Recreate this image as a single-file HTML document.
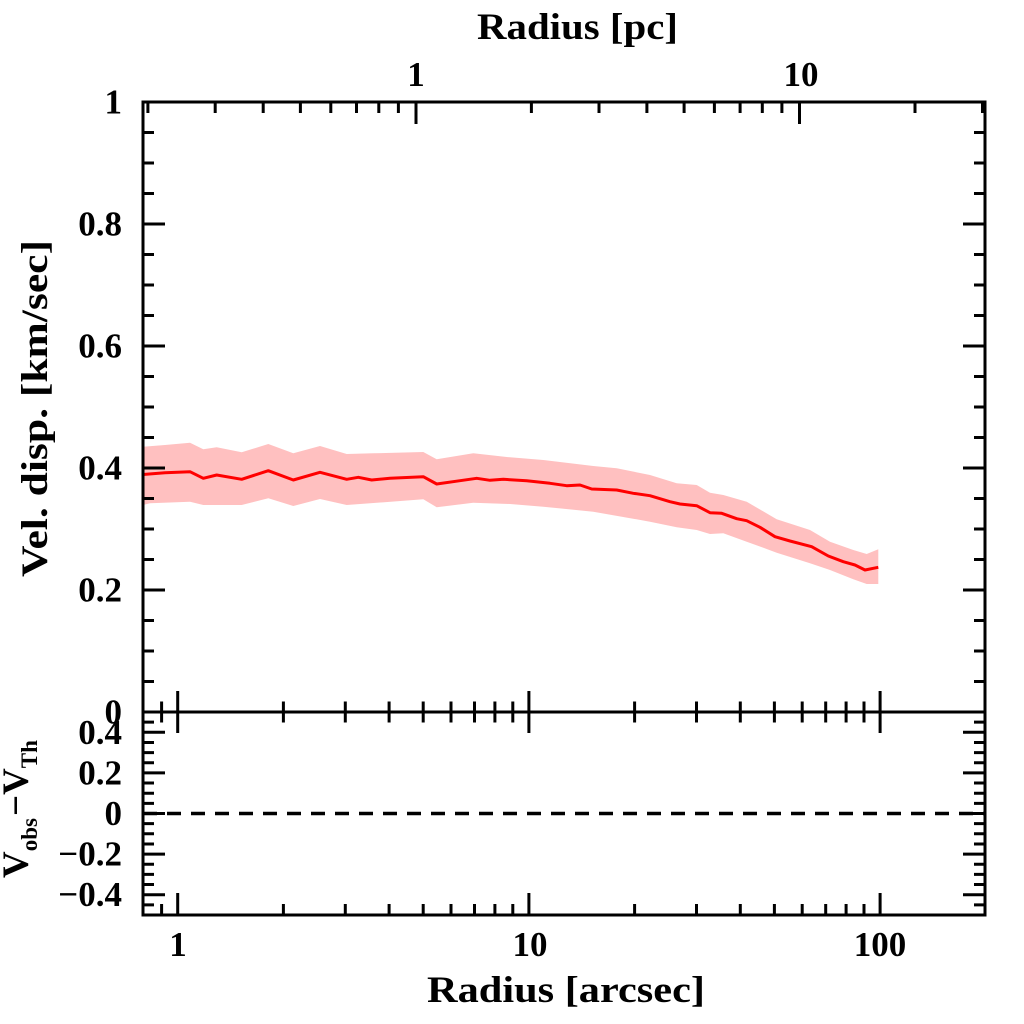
<!DOCTYPE html>
<html>
<head>
<meta charset="utf-8">
<style>
html,body{margin:0;padding:0;background:#fff;}
svg{display:block;}
text{font-family:"Liberation Serif","DejaVu Serif",serif;font-weight:bold;fill:#000;}
</style>
</head>
<body>
<svg width="1024" height="1024" viewBox="0 0 1024 1024" xmlns="http://www.w3.org/2000/svg">
<rect x="0" y="0" width="1024" height="1024" fill="#fff"/>

<!-- error band -->
<polygon fill="#ffc0c0" stroke="none" points="143,446.7 165,445 190,442.7 203.3,449.3 216.7,447.3 241.7,452.3 268.3,444 293.3,453.3 320,446 346.7,454 373.3,453.3 423.3,452 436.7,459.3 473.3,453.3 510,457.3 543.3,460 593.3,466 616.7,468.3 650,475 676.7,483.3 696.7,485 710,492.7 723.3,495 746.7,501.7 776.7,519.3 810,530 830,541.7 853.3,550 866.7,554 878.3,549.3 878.3,584 866.7,584 853.3,579.3 830,570 810,563.3 776.7,552.7 746.7,541.7 723.3,533.3 710,534 696.7,530 676.7,527.3 650,521.7 593.3,511.7 543.3,506.7 510,504 473.3,502.7 436.7,507.3 423.3,499.3 346.7,505 320,499 293.3,506 268.3,498.3 241.7,505 203.3,505 190,501.7 150,503.3 143,505"/>

<!-- data line -->
<polyline fill="none" stroke="#ff0000" stroke-width="3" stroke-linejoin="round" points="143,474.5 165,472.7 190,471.7 203.3,478.3 216.7,475 241.7,479.3 268.3,470.7 293.3,480 320,472.3 346.7,479.3 358.3,477.3 371.7,480 390,478.3 423.3,476.7 436.7,484 460,480.7 476.7,478.3 490,480.3 503.3,479.3 526.7,480.7 550,483.3 566.7,485.7 580,485 591.7,489 616.7,490 633.3,493.3 650,495.7 670,501.7 680,504 696.7,505.7 710,512.7 721.7,513.3 736.7,518.7 746.7,520.7 760,527.3 775,536.7 790,541 811.7,546.7 828.3,556 843.3,561.7 855,565 865,570 878.3,567.3"/>

<!-- dashed zero line -->
<path d="M143 813.5 H985" stroke="#000" stroke-width="3.5" stroke-dasharray="14 10" fill="none"/>

<!-- frame -->
<g stroke="#000" stroke-width="3" fill="none">
<rect x="143" y="102" width="842" height="813"/>
<path d="M143 712 H985"/>

<!-- left main ticks -->
<path d="M143 712h22 M143 681.5h11 M143 651h11 M143 620.5h11 M143 590h22 M143 559.5h11 M143 529h11 M143 498.5h11 M143 468h22 M143 437.5h11 M143 407h11 M143 376.5h11 M143 346h22 M143 315.5h11 M143 285h11 M143 254.5h11 M143 224h22 M143 193.5h11 M143 163h11 M143 132.5h11 M143 102h22"/>
<!-- right main ticks -->
<path d="M985 712h-22 M985 681.5h-11 M985 651h-11 M985 620.5h-11 M985 590h-22 M985 559.5h-11 M985 529h-11 M985 498.5h-11 M985 468h-22 M985 437.5h-11 M985 407h-11 M985 376.5h-11 M985 346h-22 M985 315.5h-11 M985 285h-11 M985 254.5h-11 M985 224h-22 M985 193.5h-11 M985 163h-11 M985 132.5h-11 M985 102h-22"/>

<!-- left lower ticks -->
<path d="M143 722.15h11 M143 732.3h22 M143 742.45h11 M143 752.6h11 M143 762.75h11 M143 772.9h22 M143 783.05h11 M143 793.2h11 M143 803.35h11 M143 813.5h22 M143 823.65h11 M143 833.8h11 M143 843.95h11 M143 854.1h22 M143 864.25h11 M143 874.4h11 M143 884.55h11 M143 894.7h22 M143 904.85h11"/>
<!-- right lower ticks -->
<path d="M985 722.15h-11 M985 732.3h-22 M985 742.45h-11 M985 752.6h-11 M985 762.75h-11 M985 772.9h-22 M985 783.05h-11 M985 793.2h-11 M985 803.35h-11 M985 813.5h-22 M985 823.65h-11 M985 833.8h-11 M985 843.95h-11 M985 854.1h-22 M985 864.25h-11 M985 874.4h-11 M985 884.55h-11 M985 894.7h-22 M985 904.85h-11"/>

<!-- top pc ticks -->
<path d="M147.9 102v11 M215.2 102v11 M263.2 102v11 M300.4 102v11 M330.8 102v11 M356.5 102v11 M378.8 102v11 M398.4 102v11 M416 102v22 M531.4 102v11 M599 102v11 M646.9 102v11 M684.1 102v11 M714.4 102v11 M740.1 102v11 M762.3 102v11 M781.9 102v11 M799.5 102v22 M915 102v11 M982.5 102v11"/>

<!-- middle axis arcsec ticks (both directions) -->
<path d="M161.6 701.5v21 M177.7 691v42 M283.4 701.5v21 M345.3 701.5v21 M389.1 701.5v21 M423.2 701.5v21 M451 701.5v21 M474.5 701.5v21 M494.9 701.5v21 M512.8 701.5v21 M528.9 691v42 M634.6 701.5v21 M696.5 701.5v21 M740.3 701.5v21 M774.4 701.5v21 M802.2 701.5v21 M825.7 701.5v21 M846.1 701.5v21 M864 701.5v21 M880.1 691v42"/>

<!-- bottom axis arcsec ticks -->
<path d="M161.6 915v-11 M177.7 915v-22 M283.4 915v-11 M345.3 915v-11 M389.1 915v-11 M423.2 915v-11 M451 915v-11 M474.5 915v-11 M494.9 915v-11 M512.8 915v-11 M528.9 915v-22 M634.6 915v-11 M696.5 915v-11 M740.3 915v-11 M774.4 915v-11 M802.2 915v-11 M825.7 915v-11 M846.1 915v-11 M864 915v-11 M880.1 915v-22"/>
</g>

<!-- y tick labels main -->
<g font-size="35" text-anchor="end">
<text x="122" y="113.5">1</text>
<text x="122" y="235.5">0.8</text>
<text x="122" y="357.5">0.6</text>
<text x="122" y="479.5">0.4</text>
<text x="122" y="601.5">0.2</text>
<text x="122" y="723.5">0</text>
<!-- lower -->
<text x="122" y="743.8">0.4</text>
<text x="122" y="784.4">0.2</text>
<text x="122" y="825">0</text>
<text x="122" y="865.6">−0.2</text>
<text x="122" y="906.2">−0.4</text>
</g>

<!-- x tick labels -->
<g font-size="35" text-anchor="middle">
<text x="178" y="956">1</text>
<text x="530" y="956">10</text>
<text x="880" y="956">100</text>
<text x="416" y="86">1</text>
<text x="801" y="86">10</text>
</g>

<!-- axis titles -->
<text x="477" y="39" font-size="37" textLength="201" lengthAdjust="spacingAndGlyphs">Radius [pc]</text>
<text x="427" y="1002" font-size="37" textLength="278" lengthAdjust="spacingAndGlyphs">Radius [arcsec]</text>
<text x="47" y="408.5" font-size="37" text-anchor="middle" textLength="337" lengthAdjust="spacingAndGlyphs" transform="rotate(-90 47 408.5)">Vel. disp. [km/sec]</text>

<!-- lower y title: V_obs - V_Th -->
<g transform="translate(28 878) rotate(-90)">
<text x="0" y="0" font-size="37">V<tspan font-size="23" dy="9">obs</tspan><tspan dy="-9" dx="2">−</tspan><tspan>V</tspan><tspan font-size="23" dy="9">Th</tspan></text>
</g>
</svg>
</body>
</html>
